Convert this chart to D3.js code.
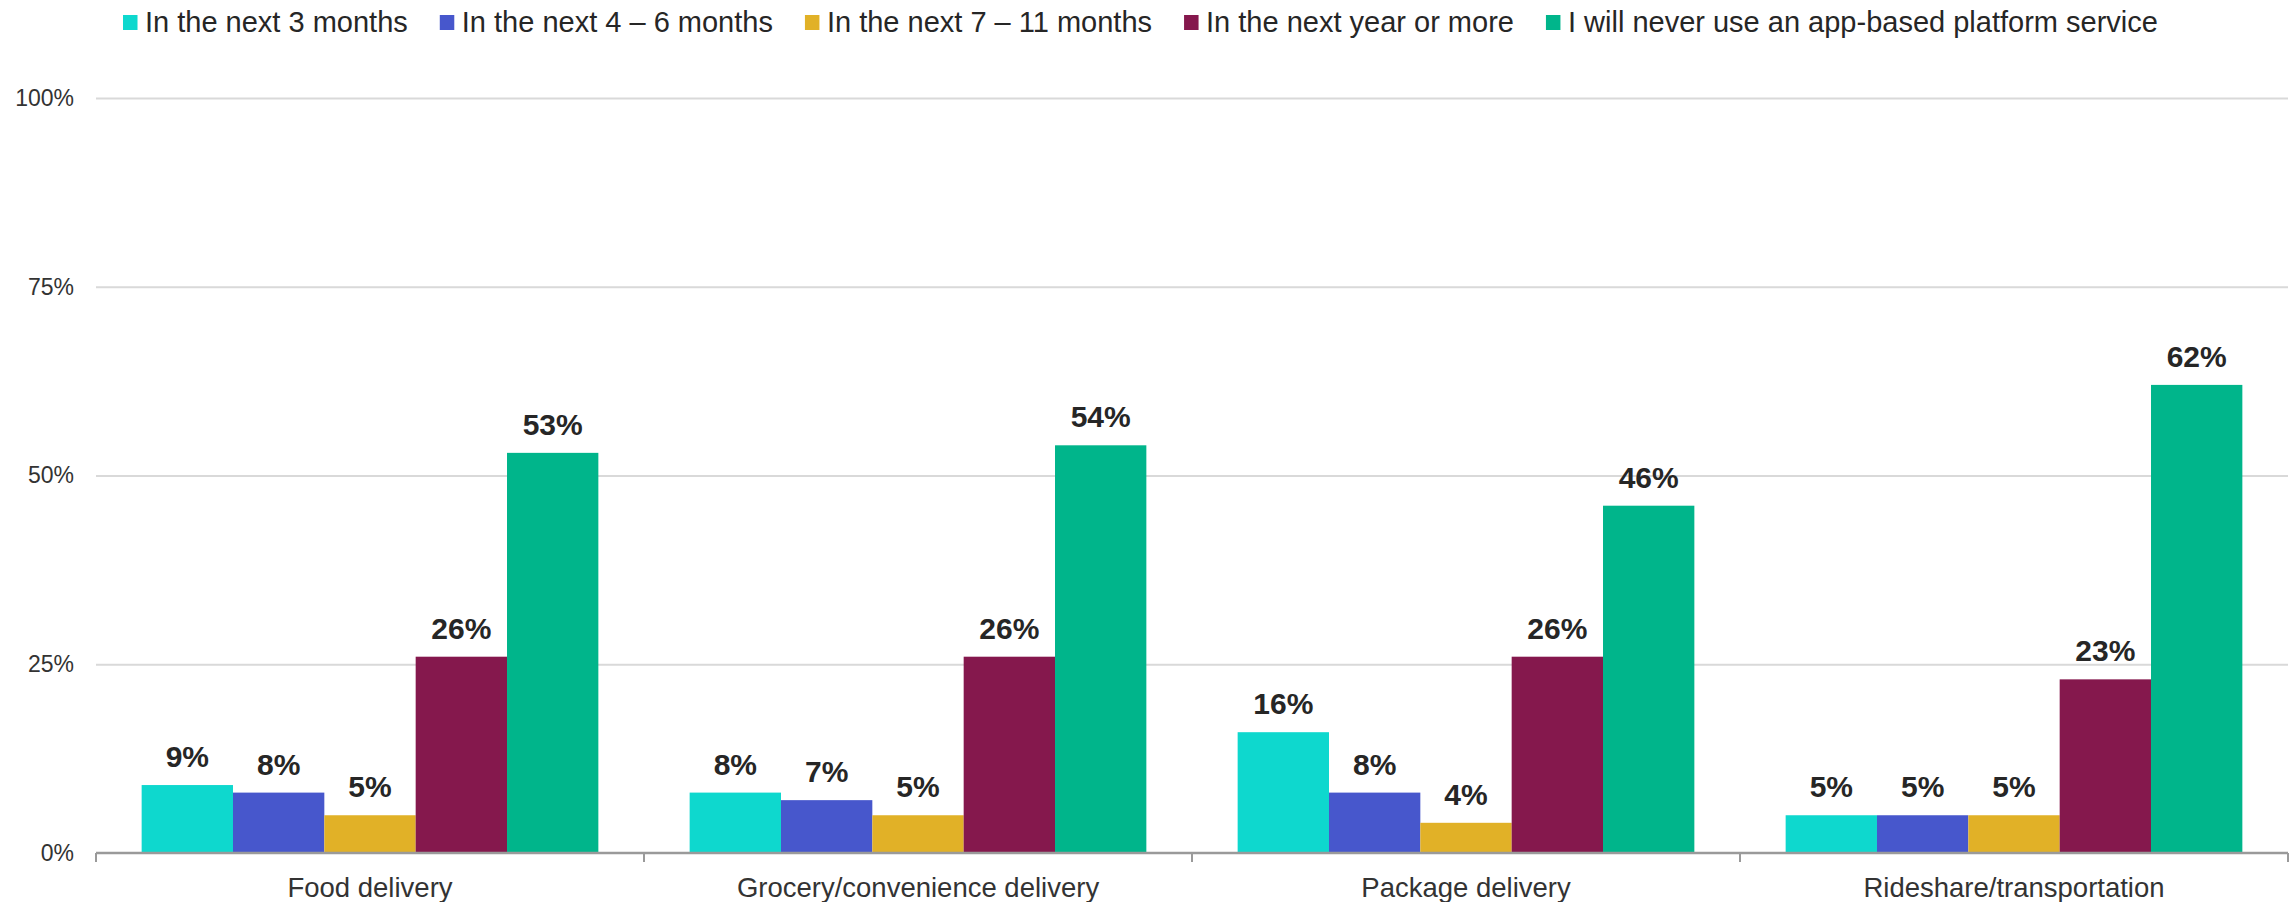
<!DOCTYPE html>
<html>
<head>
<meta charset="utf-8">
<script src="https://cdn.jsdelivr.net/npm/d3@7"></script>
<style>
  html, body { margin: 0; padding: 0; background: #fff; }
  svg { display: block; font-family: "Liberation Sans", Arial, sans-serif; }
</style>
</head>
<body>
<svg id="chart" width="2292" height="902"></svg>
<script>
const categories = ["Food delivery", "Grocery/convenience delivery", "Package delivery", "Rideshare/transportation"];
const seriesNames = ["In the next 3 months", "In the next 4 \u2013 6 months", "In the next 7 \u2013 11 months", "In the next year or more", "I will never use an app-based platform service"];
const seriesColors = ["#0ED8CE", "#4757CC", "#E1B127", "#85184D", "#00B58B"];
const next3 = [9, 8, 16, 5];
const next4to6 = [8, 7, 8, 5];
const next7to11 = [5, 5, 4, 5];
const nextYear = [26, 26, 26, 23];
const never = [53, 54, 46, 62];
const yTicks = [0, 25, 50, 75, 100];

const seriesValues = [next3, next4to6, next7to11, nextYear, never];

const svg = d3.select("#chart");
const mLeft = 96, mRight = 2288, mTop = 98, mBottom = 853;

const x0 = d3.scaleBand().domain(categories).range([mLeft, mRight]).paddingInner(0).paddingOuter(0);
const groupPad = 0.0833 * x0.bandwidth();
const x1 = d3.scaleBand().domain(d3.range(seriesNames.length)).range([groupPad, x0.bandwidth() - groupPad]).padding(0);
const y = d3.scaleLinear().domain([0, 100]).range([mBottom, mTop]);

// gridlines
const grid = svg.append("g").attr("transform", `translate(${mLeft},0)`)
  .call(d3.axisLeft(y).tickValues(yTicks.filter(d => d > 0)).tickSize(-(mRight - mLeft)).tickFormat(""));
grid.select(".domain").remove();
grid.selectAll("line").attr("stroke", "#d9d9d9").attr("stroke-width", 2);

// y labels
const yAxis = svg.append("g").attr("transform", `translate(${mLeft},0)`)
  .call(d3.axisLeft(y).tickValues(yTicks).tickSize(0).tickPadding(22).tickFormat(d => d + "%"));
yAxis.select(".domain").remove();
yAxis.selectAll("text").attr("font-size", 23).attr("fill", "#333").attr("font-family", "Liberation Sans, Arial, sans-serif");

// bars
const groups = svg.append("g").selectAll("g").data(categories).join("g")
  .attr("transform", d => `translate(${x0(d)},0)`);
groups.selectAll("rect")
  .data((c, ci) => seriesValues.map((vals, si) => ({si, v: vals[ci]})))
  .join("rect")
  .attr("x", d => x1(d.si))
  .attr("width", x1.bandwidth())
  .attr("y", d => y(d.v))
  .attr("height", d => y(0) - y(d.v))
  .attr("fill", d => seriesColors[d.si]);
groups.selectAll("text")
  .data((c, ci) => seriesValues.map((vals, si) => ({si, v: vals[ci]})))
  .join("text")
  .attr("x", d => x1(d.si) + x1.bandwidth() / 2)
  .attr("y", d => y(d.v) - 18)
  .attr("text-anchor", "middle")
  .attr("font-size", 30)
  .attr("font-weight", "bold")
  .attr("fill", "#262626")
  .text(d => d.v + "%");

// x axis
const xAxis = svg.append("g").attr("transform", `translate(0,${mBottom})`)
  .call(d3.axisBottom(x0).tickSize(0).tickPadding(0));
xAxis.select(".domain").remove();
xAxis.selectAll("text").attr("font-size", 27.5).attr("fill", "#333").attr("dy", null).attr("y", 44)
  .attr("font-family", "Liberation Sans, Arial, sans-serif");
svg.append("line").attr("x1", mLeft).attr("x2", mRight).attr("y1", mBottom).attr("y2", mBottom)
  .attr("stroke", "#9a9a9a").attr("stroke-width", 2.5);
const bounds = categories.map(c => x0(c)).concat([x0(categories[categories.length - 1]) + x0.bandwidth()]);
svg.append("g").selectAll("line").data(bounds).join("line")
  .attr("x1", d => d).attr("x2", d => d).attr("y1", mBottom).attr("y2", mBottom + 9)
  .attr("stroke", "#9a9a9a").attr("stroke-width", 2);

// legend
const legend = svg.append("g");
let lx = 123;
seriesNames.forEach((name, i) => {
  legend.append("rect").attr("x", lx).attr("y", 15).attr("width", 14.5).attr("height", 15).attr("fill", seriesColors[i]);
  const t = legend.append("text").attr("x", lx + 22).attr("y", 32).attr("font-size", 29).attr("fill", "#262626").text(name);
  lx = lx + 22 + t.node().getComputedTextLength() + 32;
});
</script>
</body>
</html>
